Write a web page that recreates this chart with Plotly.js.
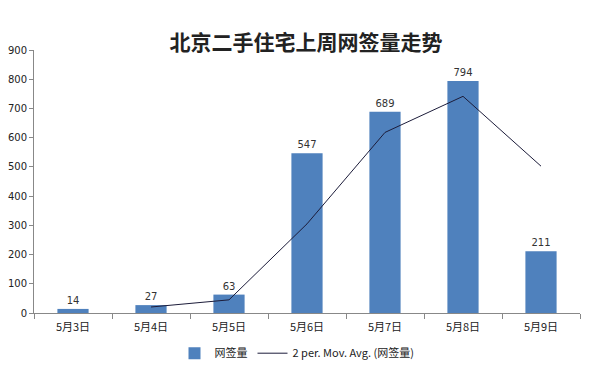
<!DOCTYPE html>
<html><head><meta charset="utf-8">
<script src="https://cdn.plot.ly/plotly-3.0.1.min.js"></script>
<style>body{margin:0;background:#fff}#c{width:594px;height:371px}</style>
</head><body><div id="c"></div>
<script>
const categories = ["5月3日","5月4日","5月5日","5月6日","5月7日","5月8日","5月9日"];
const signed = [14, 27, 63, 547, 689, 794, 211];
const avgCategories = ["5月4日","5月5日","5月6日","5月7日","5月8日","5月9日"];
const movAvg = [20.5, 45, 305, 618, 741.5, 502.5];
const yTicks = [0,100,200,300,400,500,600,700,800,900];

const data = [
  {type:"bar", x:categories, y:signed, name:"网签量", width:0.4,
   marker:{color:"#4f81bd"}, text:signed.map(String), textposition:"outside",
   textfont:{size:10, color:"#333", family:"DejaVu Sans"}, cliponaxis:false},
  {type:"scatter", mode:"lines", x:avgCategories, y:movAvg,
   name:"2 per. Mov. Avg. (网签量)", line:{color:"#1c1c3a", width:1}}
];
const layout = {
  width:594, height:371,
  margin:{l:34, r:14, t:50, b:58, autoexpand:false},
  paper_bgcolor:"#fff", plot_bgcolor:"#fff",
  title:{text:"<b>北京二手住宅上周网签量走势</b>", x:0.515, xanchor:"center", y:0.885, yanchor:"middle",
    font:{family:"Noto Sans CJK SC", size:21, color:"#222"}},
  xaxis:{type:"category", showline:true, linecolor:"#888", linewidth:1, ticks:"outside",
    tickson:"boundaries", ticklen:5, tickcolor:"#888", showgrid:false, ticklabelstandoff:4,
    tickfont:{family:"Noto Sans CJK SC", size:11, color:"#222"}},
  yaxis:{range:[0,900], tickvals:yTicks, showline:true, linecolor:"#888", linewidth:1,
    ticks:"outside", ticklen:4, tickcolor:"#888", showgrid:false, zeroline:false,
    tickfont:{family:"DejaVu Sans", size:10, color:"#222"}},
  showlegend:true,
  legend:{orientation:"h", xref:"container", yref:"container", x:0.5, xanchor:"center", y:0.048, yanchor:"middle",
    font:{family:"Noto Sans CJK SC", size:11, color:"#222"}},
  bargap:0.6
};
Plotly.newPlot("c", data, layout, {displayModeBar:false, staticPlot:true});
</script></body></html>
